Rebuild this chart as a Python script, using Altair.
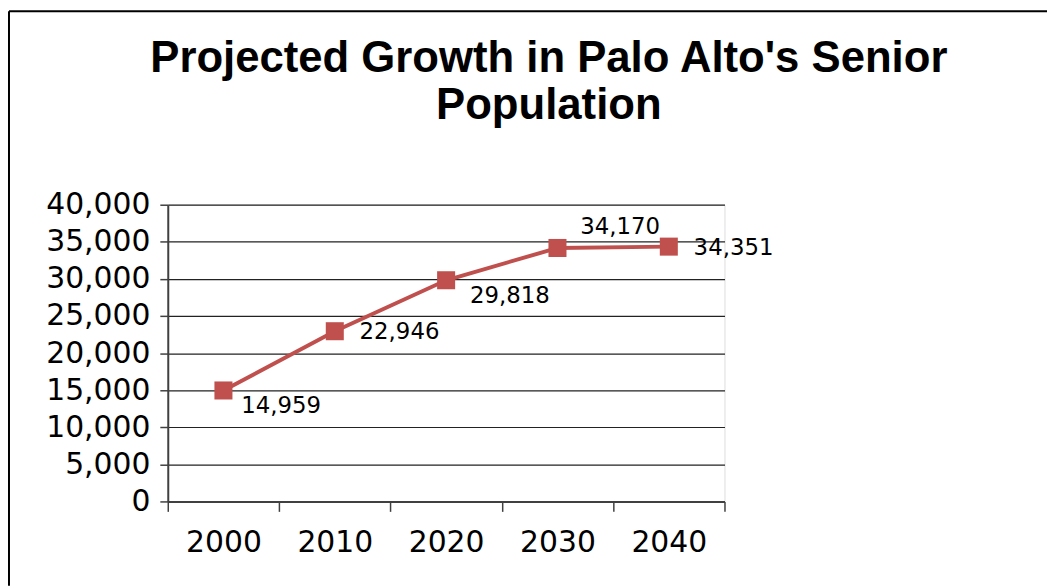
import altair as alt
import pandas as pd

years = ["2000", "2010", "2020", "2030", "2040"]
population = [14959, 22946, 29818, 34170, 34351]
label_text = ["14,959", "22,946", "29,818", "34,170", "34,351"]
title_lines = ["Projected Growth in Palo Alto's Senior", "Population"]

df = pd.DataFrame({"year": years, "pop": population, "label": label_text})

# label placement (style, not data): year -> (dx, dy)
LABEL_OFFSETS = {"2000": (18, 16), "2010": (25, 1), "2020": (24, 16),
                 "2030": (23, -21), "2040": (25, 1)}

FONT = "Liberation Sans"
TICKFONT = "DejaVu Sans"
W, H = 561, 299
PAD_L, PAD_T, PAD_R, PAD_B = 161, 196, 325, 85

x = alt.X("year:N", bandPosition=0.5,
          scale=alt.Scale(type="band", paddingInner=0, paddingOuter=0),
          axis=alt.Axis(title=None, tickBand="extent", labelAngle=0, grid=False,
                        tickSize=10, labelPadding=16, labelFontSize=30, labelFont=TICKFONT,
                        labelColor="#000", domainColor="#404040", tickColor="#404040",
                        domainWidth=2, tickWidth=1.5))
y = alt.Y("pop:Q", scale=alt.Scale(domain=[0, 40000], nice=False),
          axis=alt.Axis(title=None, values=list(range(0, 40001, 5000)), format=",d",
                        tickSize=8, labelPadding=10, labelFontSize=30, labelFont=TICKFONT,
                        labelColor="#000", gridColor="#222", gridWidth=1.2,
                        domainColor="#404040", tickColor="#404040", domainWidth=2,
                        tickWidth=1.5))

base = alt.Chart(df)

line = base.mark_line(color="#C0504D", strokeWidth=4).encode(x=x, y=y)
pts = base.mark_point(shape="square", filled=True, opacity=1, size=330,
                      color="#C0504D").encode(x=x, y=y)

texts = []
for yr, (dx, dy) in LABEL_OFFSETS.items():
    texts.append(
        base.transform_filter(alt.datum.year == yr)
        .mark_text(align="left", baseline="middle", dx=dx, dy=dy, fontSize=23,
                   font=TICKFONT, color="#000")
        .encode(x=x, y=y, text="label:N")
    )

one = pd.DataFrame({"k": [0]})
title = alt.Chart(one).mark_text(
    align="center", baseline="alphabetic", fontSize=44, font=FONT, fontWeight="bold",
    color="#000", lineHeight=48,
).encode(x=alt.value(W / 2 + 103.5), y=alt.value(-134), text=alt.value(title_lines))

border_top = alt.Chart(one).mark_rule(color="#000", strokeWidth=2).encode(
    x=alt.value(-PAD_L + 1), x2=alt.value(W + PAD_R), y=alt.value(-PAD_T + 1))
border_left = alt.Chart(one).mark_rule(color="#000", strokeWidth=2).encode(
    x=alt.value(-PAD_L + 1), y=alt.value(-PAD_T + 1), y2=alt.value(H + PAD_B))

chart = alt.layer(line, pts, *texts, title, border_top, border_left).properties(
    width=W, height=H,
    autosize=alt.AutoSizeParams(type="none"),
    padding={"left": PAD_L, "top": PAD_T, "right": PAD_R, "bottom": PAD_B},
).configure_view(fill="#FFFFCC", stroke="#888888", strokeWidth=2
).configure(background="white")

chart.save("out.html", embed_options={"renderer": "svg", "actions": False})
